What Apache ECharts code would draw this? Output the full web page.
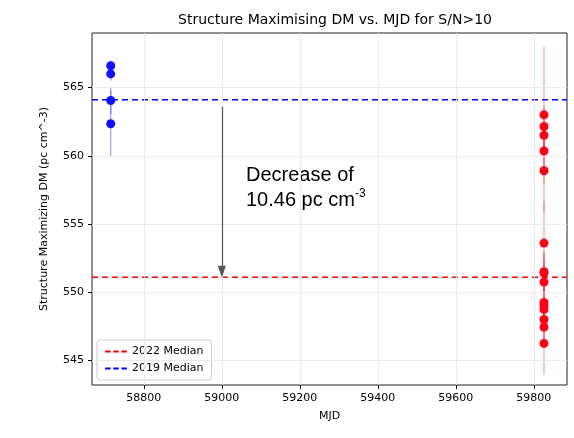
<!DOCTYPE html>
<html><head><meta charset="utf-8">
<script src="https://cdn.jsdelivr.net/npm/echarts@6/dist/echarts.min.js"></script>
<style>html,body{margin:0;padding:0;background:#fff}#c{width:574px;height:438px}</style>
</head><body><div id="c"></div>
<script>
// data
const mjd2019 = 58715;
const dm2019 = [566.6, 566.0, 564.05, 562.35];
const err2019 = [0.4, 0.5, 1.0, 2.4];
const mjd2022 = 59826;
const dm2022 = [563.0, 562.15, 561.5, 560.35, 558.9, 553.6, 551.5, 551.4, 550.75, 549.25, 549.0, 548.75, 548.0, 547.45, 546.25];
const err2022 = [5.0, 1.5, 1.5, 1.5, 3.0, 3.0, 1.5, 1.5, 1.5, 1.5, 1.5, 1.5, 1.5, 1.5, 2.3];
const median2019 = 564.1;
const median2022 = 551.1;
const xRange = [58667, 59885];
const yRange = [543.2, 569.0];
const xTicks = [58800, 59000, 59200, 59400, 59600, 59800];
const yTicks = [545, 550, 555, 560, 565];
const arrowX = 59000, arrowFrom = 563.6, arrowTo = 551.5;

function pts(x, ys) { return ys.map(y => [x, y]); }
function errData(x, ys, es) { return ys.map((y, i) => [x, y - es[i], y + es[i]]); }
function errSeries(data, color) {
  return {
    type: 'custom', silent: true, z: 2, data: data,
    renderItem: (p, api) => {
      const a = api.coord([api.value(0), api.value(1)]);
      const b = api.coord([api.value(0), api.value(2)]);
      return { type: 'line', shape: { x1: a[0], y1: a[1], x2: b[0], y2: b[1] },
        style: { stroke: color, lineWidth: 1.5, opacity: 0.3 } };
    }
  };
}
const dashIcon = 'path://M0,4h6v2h-6zM9,4h6v2h-6zM18,4h6v2h-6z';

const chart = echarts.init(document.getElementById('c'));
chart.setOption({
  animation: false,
  title: { text: 'Structure Maximising DM vs. MJD for S/N>10', left: 330, top: 8, textAlign: 'center',
    textStyle: { fontFamily: 'DejaVu Sans', fontSize: 14, fontWeight: 'normal', color: '#000' } },
  grid: { left: 92, right: 7, top: 33, bottom: 53, show: true, borderColor: '#222', borderWidth: 1 },
  xAxis: { type: 'value', min: xRange[0], max: xRange[1], name: 'MJD', nameLocation: 'middle', nameGap: 26,
    nameTextStyle: { fontFamily: 'DejaVu Sans', fontSize: 11, color: '#000' },
    axisLine: { show: false }, axisTick: { show: true, customValues: xTicks, length: 4, lineStyle: { color: '#000' } },
    axisLabel: { customValues: xTicks, formatter: v => String(v), fontFamily: 'DejaVu Sans', fontSize: 11, color: '#000' },
    splitLine: { show: false } },
  yAxis: { type: 'value', min: yRange[0], max: yRange[1], name: 'Structure Maximizing DM (pc cm^-3)', nameLocation: 'middle', nameGap: 42,
    nameTextStyle: { fontFamily: 'DejaVu Sans', fontSize: 11, color: '#000' },
    axisLine: { show: false }, axisTick: { show: true, customValues: yTicks, length: 4, lineStyle: { color: '#000' } },
    axisLabel: { customValues: yTicks, formatter: v => String(v), fontFamily: 'DejaVu Sans', fontSize: 11, color: '#000' },
    splitLine: { show: false } },
  legend: { left: 97, bottom: 58, orient: 'vertical', itemGap: 6, itemWidth: 22, itemHeight: 10,
    padding: [6, 8], borderColor: '#ccc', borderWidth: 1, borderRadius: 3, backgroundColor: '#fff',
    textStyle: { fontFamily: 'DejaVu Sans', fontSize: 11, color: '#000' },
    data: [{ name: '2022 Median', icon: dashIcon }, { name: '2019 Median', icon: dashIcon }] },
  graphic: [{ type: 'text', left: 246, top: 163, style: {
    text: 'Decrease of\n10.46 pc cm{s|-3}', fontFamily: 'Liberation Sans', fontSize: 20, lineHeight: 25, fill: '#000',
    rich: { s: { fontSize: 12, verticalAlign: 'top', lineHeight: 14, fill: '#000', fontFamily: 'Liberation Sans' } } } }],
  series: [
    // gridlines
    { type: 'line', data: [], silent: true,
      markLine: { symbol: 'none', silent: true, label: { show: false }, lineStyle: { color: '#ebebeb', type: 'solid', width: 1 },
        data: xTicks.map(v => ({ xAxis: v })).concat(yTicks.map(v => ({ yAxis: v }))) } },
    errSeries(errData(mjd2019, dm2019, err2019), '#0000ff'),
    errSeries(errData(mjd2022, dm2022, err2022), '#ff0000'),
    { type: 'scatter', data: pts(mjd2019, dm2019), symbolSize: 9, itemStyle: { color: '#1010ff', opacity: 1 }, z: 3 },
    { type: 'scatter', data: pts(mjd2022, dm2022), symbolSize: 9, itemStyle: { color: '#ff0015', opacity: 1 }, z: 3 },
    { name: '2022 Median', type: 'line', data: [[xRange[0], median2022], [xRange[1], median2022]], symbol: 'none',
      lineStyle: { color: '#ff0000', type: [6, 4], width: 1.5 }, itemStyle: { color: '#ff0000' }, z: 4 },
    { name: '2019 Median', type: 'line', data: [[xRange[0], median2019], [xRange[1], median2019]], symbol: 'none',
      lineStyle: { color: '#0000ff', type: [6, 4], width: 1.5 }, itemStyle: { color: '#0000ff' }, z: 4 },
    { type: 'line', data: [], silent: true,
      markLine: { symbol: ['none', 'triangle'], symbolSize: [8, 12], silent: true, label: { show: false },
        lineStyle: { color: '#555', type: 'solid', width: 1.2 },
        data: [[{ coord: [arrowX, arrowFrom] }, { coord: [arrowX, arrowTo] }]] } }
  ]
});
</script></body></html>
